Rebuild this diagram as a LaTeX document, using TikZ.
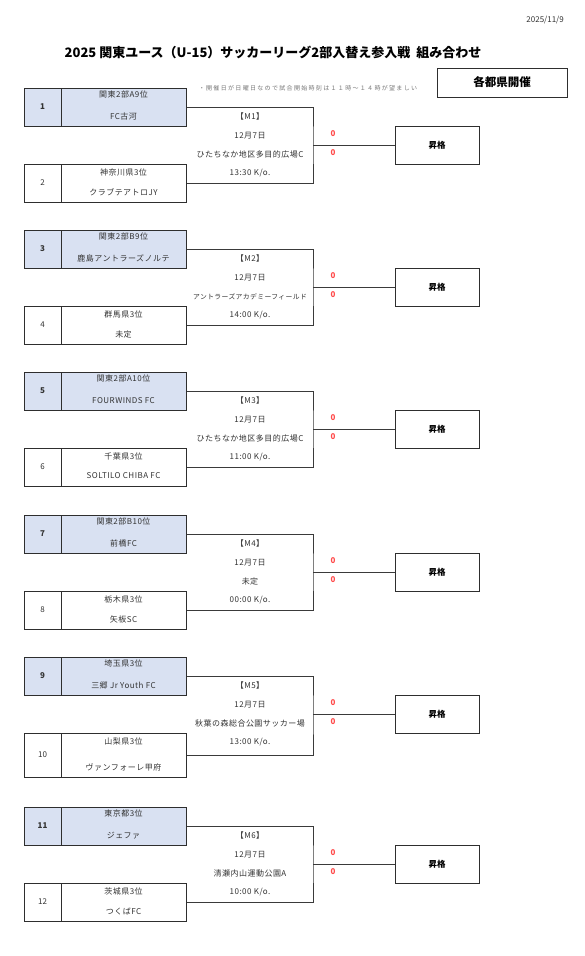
\documentclass[tikz,border=0pt]{standalone}
\usepackage{fontspec}
\setmainfont{Noto Sans CJK JP}
\definecolor{lc}{HTML}{3A3A3A}
\definecolor{bc}{HTML}{2E2E2E}
\definecolor{hlc}{HTML}{D9E1F2}
\definecolor{tc}{HTML}{333333}
\definecolor{sc}{HTML}{FF4B4B}
\definecolor{nc}{HTML}{777777}
\tikzset{
  ln/.style={draw=lc, line width=0.9pt},
  cell/.style={draw=bc, line width=1pt, inner sep=0pt, minimum height=38pt},
  numcell/.style={cell, minimum width=37pt, text=tc, font=\fontsize{8}{9}\selectfont},
  teamcell/.style={cell, minimum width=125pt},
  hl/.style={fill=hlc},
  txt/.style={inner sep=0pt, text=tc, font=\fontsize{8}{9}\selectfont\addfontfeature{LetterSpace=6}},
  win/.style={cell, minimum width=84pt, text=black, font=\fontsize{8.5}{9}\selectfont\bfseries},
  score/.style={inner sep=0pt, text=sc, font=\fontsize{8}{9}\selectfont\bfseries}
}
% #1 id, #2 top y, #3 bottom box height, #4 n1, #5 a1, #6 b1, #7 n2, #8 a2, #9 b2
\newcommand{\mblock}[9]{%
  \node[numcell,hl,font=\fontsize{8}{9}\selectfont\bfseries] (n#1a) at (42.5,#2+19) {#4};
  \node[teamcell,hl] (t#1a) at (123.5,#2+19) {};
  \node[txt] (a#1a) at (123.5,#2+6.5) {#5};
  \node[txt] (b#1a) at (123.5,#2+28.5) {#6};
  \node[numcell,minimum height=#3pt] (n#1b) at (42.5,#2+76+#3/2) {#7};
  \node[teamcell,minimum height=#3pt] (t#1b) at (123.5,#2+76+#3/2) {};
  \node[txt] (a#1b) at (123.5,#2+84) {#8};
  \node[txt] (b#1b) at (123.5,#2+76+#3-10) {#9};
  \node[win] (w#1) at (437,#2+57) {昇格};
  \coordinate (j#1) at (313,#2+57);
  \draw[ln] (t#1a.east) -| (j#1) |- (t#1b.east);
  \draw[ln] (j#1) -- (w#1.west);
  \node[score] (sa#1) at (333,#2+46) {0};
  \node[score] (sb#1) at (333,#2+65) {0};
}
% #1 id, #2 top y, #3 match, #4 venue, #5 time
\newcommand{\mtext}[5]{%
  \node[txt] (m#1) at (250,#2+28.5) {【#3】};
  \node[txt] (d#1) at (250,#2+47.5) {12月7日};
  \node[txt] (v#1) at (250,#2+66.5) {#4};
  \node[txt] (k#1) at (250,#2+85) {#5};
}
\begin{document}
\begin{tikzpicture}[x=1pt,y=-1pt]
\useasboundingbox (0,0) rectangle (585,956);
\fill[white] (0,0) rectangle (585,956);

\node[inner sep=0pt, anchor=east, text=tc, font=\fontsize{8}{9}\selectfont] (date) at (564,20) {2025/11/9};
\node[inner sep=0pt, text=black, font=\fontsize{13}{15}\selectfont\bfseries] (title) at (273,52) {2025 関東ユース（U-15）サッカーリーグ2部入替え参入戦\ \ 組み合わせ};
\node[draw=bc, line width=1pt, minimum width=130pt, minimum height=29pt, inner sep=0pt, font=\fontsize{11.5}{13}\selectfont\bfseries] (host) at (502,82.5) {各都県開催};
\node[inner sep=0pt, text=nc, font=\fontsize{6}{7}\selectfont\addfontfeature{LetterSpace=22}] (note) at (308,88) {・開催日が日曜日なので試合開始時刻は１１時～１４時が望ましい};

\mblock{1}{88}{38}{1}{関東2部A9位}{FC古河}{2}{神奈川県3位}{クラブテアトロJY}
\mtext{1}{88}{M1}{ひたちなか地区多目的広場C}{13:30 K/o.}

\mblock{2}{230}{38}{3}{関東2部B9位}{鹿島アントラーズノルテ}{4}{群馬県3位}{未定}
\mtext{2}{230}{M2}{{\fontsize{6.8}{8}\selectfont アントラーズアカデミーフィールド}}{14:00 K/o.}

\mblock{3}{372}{38}{5}{関東2部A10位}{FOURWINDS FC}{6}{千葉県3位}{SOLTILO CHIBA FC}
\mtext{3}{372}{M3}{ひたちなか地区多目的広場C}{11:00 K/o.}

\mblock{4}{515}{38}{7}{関東2部B10位}{前橋FC}{8}{栃木県3位}{矢板SC}
\mtext{4}{515}{M4}{未定}{00:00 K/o.}

\mblock{5}{657}{44}{9}{埼玉県3位}{三郷 Jr Youth FC}{10}{山梨県3位}{ヴァンフォーレ甲府}
\mtext{5}{657}{M5}{秋葉の森総合公園サッカー場}{13:00 K/o.}

\mblock{6}{807}{38}{11}{東京都3位}{ジェファ}{12}{茨城県3位}{つくばFC}
\mtext{6}{807}{M6}{清瀬内山運動公園A}{10:00 K/o.}
\end{tikzpicture}
\end{document}
